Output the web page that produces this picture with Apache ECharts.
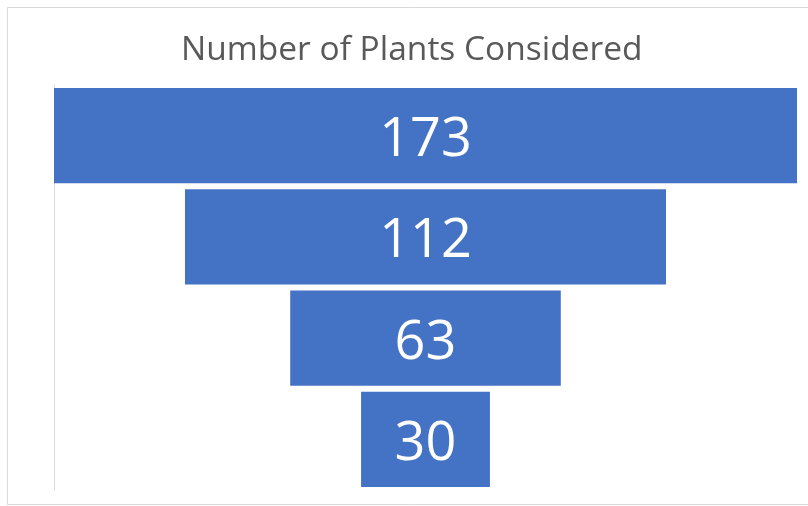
<!DOCTYPE html>
<html>
<head>
<meta charset="utf-8">
<script src="https://cdn.jsdelivr.net/npm/echarts@6/dist/echarts.min.js"></script>
<style>
    html, body { margin: 0; padding: 0; background: #fff; }
    #chart { width: 808px; height: 506px; }
</style>
</head>
<body>
<div id="chart"></div>
<script>
const stages = ['Stage 1', 'Stage 2', 'Stage 3', 'Stage 4']
const plants = [173, 112, 63, 30]
const chartTitle = 'Number of Plants Considered'

const maxPlants = Math.max(...plants)
// invisible padding so each bar sits centred on the widest one
const padding = plants.map(v => (maxPlants - v) / 2)

const chart = echarts.init(document.getElementById('chart'), null, { renderer: 'canvas' })
const option = {
    animation: false,
    title: {
        text: chartTitle,
        left: 176,
        top: 28,
        textStyle: {
            fontFamily: 'Open Sans',
            fontWeight: 'normal',
            fontSize: 33.5,
            color: '#595959',
        },
    },
    graphic: [
        {
            type: 'rect',
            shape: { x: 7.5, y: 7.5, width: 900, height: 497 },
            style: { fill: 'none', stroke: '#d9d9d9', lineWidth: 1 },
            silent: true,
        },
    ],
    grid: {
        left: 54,
        right: 11,
        top: 85,
        bottom: 16,
    },
    xAxis: {
        type: 'value',
        min: 0,
        max: maxPlants,
        show: false,
    },
    yAxis: {
        type: 'category',
        data: stages,
        inverse: true,
        axisLine: { show: true, lineStyle: { color: '#d9d9d9', width: 1 } },
        axisTick: { show: false },
        axisLabel: { show: false },
    },
    series: [
        {
            name: 'pad',
            type: 'bar',
            stack: 'funnel',
            data: padding,
            itemStyle: { color: 'transparent' },
            barCategoryGap: '6%',
            silent: true,
        },
        {
            name: chartTitle,
            type: 'bar',
            stack: 'funnel',
            data: plants,
            barCategoryGap: '6%',
            itemStyle: { color: '#4472c4' },
            label: {
                show: true,
                position: 'inside',
                offset: [0, 5],
                color: '#fff',
                fontFamily: 'Open Sans',
                fontSize: 54,
            },
        },
    ],
}
chart.setOption(option)
</script>
</body>
</html>
